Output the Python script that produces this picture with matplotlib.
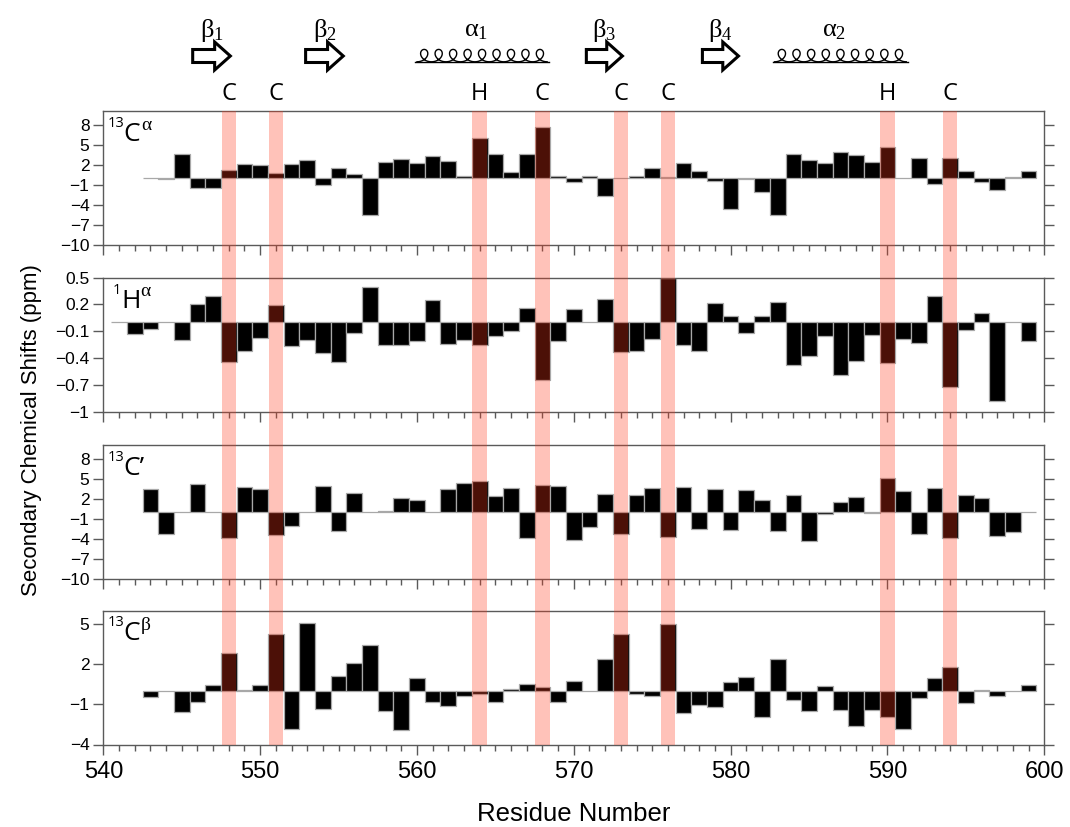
import numpy as np
import matplotlib
matplotlib.use('Agg')
import matplotlib.pyplot as plt
from matplotlib.patches import Polygon
from matplotlib.ticker import MultipleLocator, FixedLocator

plt.rcParams['font.family'] = ['Liberation Sans', 'DejaVu Sans']
plt.rcParams['mathtext.fontset'] = 'custom'
plt.rcParams['mathtext.rm'] = 'Liberation Serif'
plt.rcParams['mathtext.it'] = 'Liberation Serif'
plt.rcParams['mathtext.bf'] = 'Liberation Serif:bold'

# ---------------- data ----------------
ca_start = 543
ca_vals = [0.0, -0.15, 3.66, -1.38, -1.38, 1.32, 2.11, 2.0, 0.77, 2.2,
           2.7, -0.98, 1.6, 0.7, -5.46, 2.4, 2.86, 2.3, 3.36, 2.56,
           0.42, 6.1, 3.6, 0.92, 3.66, 7.65, 0.37, -0.58, 0.42, -2.67,
           0.0, 0.32, 1.52, 0.17, 2.26, 1.17, -0.43, -4.6, -0.1, -2.0,
           -5.46, 3.66, 2.7, 2.36, 3.96, 3.5, 2.4, 4.66, 0.0, 3.1,
           -0.83, 3.0, 1.07, -0.48, -1.78, 0.22, 1.07]

ha_start = 541
ha_vals = [0.0, -0.134, -0.074, 0.0, -0.205, 0.2, 0.29, -0.445, -0.318, -0.18,
           0.19, -0.27, -0.2, -0.343, -0.445, -0.12, 0.395, -0.254, -0.25, -0.216,
           0.245, -0.246, -0.195, -0.25, -0.157, -0.1, 0.158, -0.648, -0.213, 0.15,
           0.0, 0.26, -0.33, -0.32, -0.19, 0.5, -0.25, -0.32, 0.22, 0.07,
           -0.12, 0.07, 0.225, -0.476, -0.38, -0.157, -0.596, -0.44, -0.14, -0.457,
           -0.19, -0.229, 0.29, -0.724, -0.09, 0.105, -0.88, 0.0, -0.206]

co_start = 543
co_vals = [3.45, -3.2, 0.0, 4.2, 0.0, -3.85, 3.85, 3.5, -3.35, -2.05,
           0.0, 3.95, -2.8, 2.9, 0.0, 0.25, 2.2, 1.9, 0.0, 3.55,
           4.45, 4.75, 2.5, 3.65, -3.8, 4.1, 3.95, -4.15, -2.2, 2.8,
           -3.25, 2.6, 3.7, -3.7, 3.8, -2.55, 3.5, -2.6, 3.3, 1.8,
           -2.85, 2.55, -4.3, -0.3, 1.55, 2.3, -0.15, 5.15, 3.15, -3.25,
           3.65, -3.9, 2.65, 2.1, -3.5, -2.95, 0.0]

cb_start = 543
cb_vals = [-0.48, 0.0, -1.55, -0.85, 0.45, 2.83, 0.08, 0.43, 4.28, -2.85,
           5.03, -1.35, 1.13, 2.08, 3.45, -1.48, -2.9, 0.95, -0.8, -1.13,
           -0.35, -0.25, -0.85, 0.13, 0.5, 0.28, -0.85, 0.75, 0.0, 2.4,
           4.28, -0.2, -0.35, 5.0, -1.63, -1.03, -1.18, 0.7, 1.05, -1.95,
           2.4, -0.68, -1.48, 0.38, -1.45, -2.65, -1.4, -1.95, -2.83, -0.53,
           0.93, 1.8, -0.93, 0.08, -0.38, 0.0, 0.45]

big_ticks = [8, 5, 2, -1, -4, -7, -10]
big_ticklabels = ['8', '5', '2', '\u22121', '\u22124', '\u22127', '\u221210']
ha_ticks = [0.5, 0.2, -0.1, -0.4, -0.7, -1.0]
ha_ticklabels = ['0.5', '0.2', '\u22120.1', '\u22120.4', '\u22120.7', '\u22121']
cb_ticks = [5, 2, -1, -4]
cb_ticklabels = ['5', '2', '\u22121', '\u22124']

x_ticks = [540, 550, 560, 570, 580, 590, 600]

highlight_res = [548, 551, 564, 568, 573, 576, 590, 594]
highlight_lab = ['C', 'C', 'H', 'C', 'C', 'C', 'H', 'C']

strands = [('\\beta_1', 545.7, 548.1), ('\\beta_2', 552.9, 555.3),
           ('\\beta_3', 570.8, 573.1), ('\\beta_4', 578.2, 580.5)]
helices = [('\\alpha_1', 559.9, 568.4), ('\\alpha_2', 582.7, 591.3)]

# ---------------- layout ----------------
W, H = 1070, 827
fig = plt.figure(figsize=(W / 100, H / 100), dpi=100)

def fx(px):
    return px / W

def fy(py):
    return 1 - py / H

left_px, right_px = 103.3, 1044.3
wid_px = right_px - left_px
panel_tops = [111, 277.5, 445, 610.5]
panel_h = 134

spine_col = '#5a5a5a'
edge_col = '#a8a8a8'

panels = [
    (ca_start, ca_vals, (-10, 10.1), big_ticks, big_ticklabels),
    (ha_start, ha_vals, (-1.0, 0.5), ha_ticks, ha_ticklabels),
    (co_start, co_vals, (-10, 10.1), big_ticks, big_ticklabels),
    (cb_start, cb_vals, (-4, 6.0), cb_ticks, cb_ticklabels),
]

axes = []
for i, (start, vals, ylim, yt, ytl) in enumerate(panels):
    top = panel_tops[i]
    ax = fig.add_axes([fx(left_px), fy(top + panel_h), wid_px / W, panel_h / H])
    x = np.arange(start, start + len(vals))
    ax.bar(x, vals, width=1.0, color='black', edgecolor=edge_col,
           linewidth=0.9, zorder=2)
    ax.set_xlim(540, 600)
    ax.set_ylim(*ylim)
    ax.yaxis.set_major_locator(FixedLocator(yt))
    ax.set_yticklabels(ytl)
    ax.xaxis.set_major_locator(FixedLocator(x_ticks))
    ax.xaxis.set_minor_locator(MultipleLocator(1))
    for s in ax.spines.values():
        s.set_color(spine_col)
        s.set_linewidth(1.0)
    ax.tick_params(axis='y', which='major', direction='out', length=7, width=1,
                   color=spine_col, left=True, right=True, labelsize=12.5, pad=3)
    ax.tick_params(axis='x', which='major', direction='out', length=7, width=1,
                   color=spine_col, bottom=True, top=False, labelsize=17, pad=5)
    ax.tick_params(axis='x', which='minor', direction='out', length=4, width=1,
                   color=spine_col, bottom=True, top=False)
    if i < 3:
        ax.tick_params(axis='x', labelbottom=False)
    else:
        ax.set_xticklabels([str(t) for t in x_ticks])
    axes.append(ax)

# panel labels
lab_font = ['Open Sans', 'DejaVu Sans']
greek_font = ['Liberation Serif', 'DejaVu Serif']
panel_labels = [('13', 'C', '\u03b1', greek_font), ('1', 'H', '\u03b1', greek_font),
                ('13', 'C\u2019', '', greek_font), ('13', 'C', '\u03b2', greek_font)]
pre_x = [108, 113, 108, 108]
main_x = [123.5, 121, 123.5, 123.5]
post_x = [141.5, 140, 141.5, 141]
for i, (pre, main, post, gf) in enumerate(panel_labels):
    top = panel_tops[i]
    fig.text(fx(pre_x[i]), fy(top + 5), pre, fontsize=10.5, family=lab_font,
             ha='left', va='top')
    fig.text(fx(main_x[i]), fy(top + 30), main, fontsize=19, family=lab_font,
             ha='left', va='baseline')
    if post:
        fig.text(fx(post_x[i]), fy(top + 6), post, fontsize=14, family=gf,
                 ha='left', va='top')

# secondary structure axis
ax_ss = fig.add_axes([fx(left_px), fy(110), wid_px / W, 110 / H])
ax_ss.set_xlim(540, 600)
ax_ss.set_ylim(110, 0)
ax_ss.axis('off')

yc_arrow = 56.0
for lab, x0, x1 in strands:
    hl = 1.0
    bh, hh = 6.5, 14.0
    verts = [(x0, yc_arrow - bh), (x1 - hl, yc_arrow - bh), (x1 - hl, yc_arrow - hh),
             (x1, yc_arrow), (x1 - hl, yc_arrow + hh), (x1 - hl, yc_arrow + bh),
             (x0, yc_arrow + bh)]
    ax_ss.add_patch(Polygon(verts, closed=True, facecolor='white', edgecolor='black',
                            linewidth=2.2, joinstyle='miter'))
    ax_ss.text((x0 + x1) / 2, 36.5, '$%s$' % lab, math_fontfamily='custom',
               fontsize=19, ha='center', va='baseline')

n_loops = 9
for lab, x0, x1 in helices:
    k = (x1 - x0) / (2 * np.pi * n_loops)
    d = 2.9 * k
    hgt = 6.2
    yc = 55.6
    t = np.linspace(-np.pi, (2 * n_loops - 1) * np.pi, 3000)
    xs = x0 + 0.1 + k * (t + np.pi) * (x1 - x0 - 0.2) / (x1 - x0) - d * np.sin(t)
    ys = yc - hgt * np.cos(t)
    ax_ss.plot(xs, ys, color='black', lw=1.0)
    ax_ss.plot([x0, x1], [yc + hgt, yc + hgt], color='black', lw=1.0)
    ax_ss.text((x0 + x1) / 2 - 0.4, 36.5, '$%s$' % lab, math_fontfamily='custom',
               fontsize=19, ha='center', va='baseline')

for r, l in zip(highlight_res, highlight_lab):
    ax_ss.text(r, 93.5, l, fontsize=17, family=lab_font, ha='center', va='center')

# highlight overlay
bot_px = panel_tops[-1] + panel_h
ax_hl = fig.add_axes([fx(left_px), fy(bot_px), wid_px / W, (bot_px - 111) / H],
                     zorder=20)
ax_hl.set_xlim(540, 600)
ax_hl.set_ylim(0, 1)
ax_hl.axis('off')
ax_hl.patch.set_alpha(0)
for r in highlight_res:
    ax_hl.axvspan(r - 0.46, r + 0.46, color=(1.0, 0.22, 0.1), alpha=0.3, lw=0)

# axis titles
fig.text(fx(32), fy(430), 'Secondary Chemical Shifts (ppm)', rotation=90,
         ha='center', va='center', fontsize=16)
fig.text(fx((left_px + right_px) / 2), fy(821), 'Residue Number',
         ha='center', va='baseline', fontsize=18.5)

fig.savefig('out.png', dpi=100)
